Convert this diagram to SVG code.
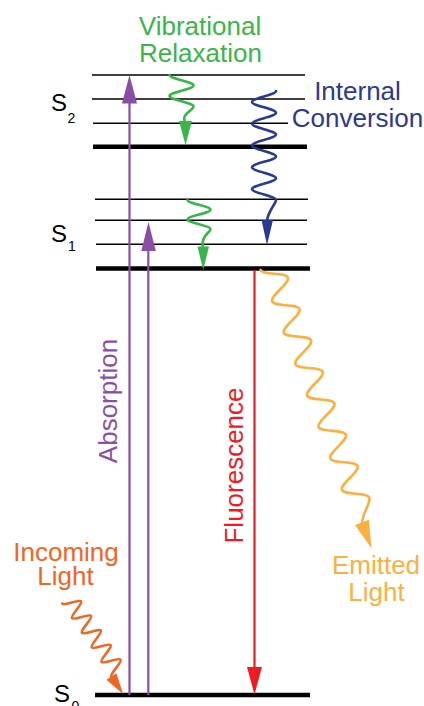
<svg xmlns="http://www.w3.org/2000/svg" width="424" height="706" viewBox="0 0 424 706">
<style>
.lv{stroke:#000;stroke-width:1.6;fill:none}
.lvt{stroke:#000;stroke-width:4.6;fill:none}
.lab{font-family:"Liberation Sans",Arial,Helvetica,sans-serif;font-size:26px}
.sl{font-family:"Liberation Sans",Arial,Helvetica,sans-serif;font-size:24px;fill:#000}
.sub{font-family:"Liberation Sans",Arial,Helvetica,sans-serif;font-size:14px;fill:#000}
.wv{fill:none;stroke-width:2.6;stroke-linecap:round;stroke-linejoin:round}
</style>
<rect width="424" height="706" fill="#fff"/>
<g id="levels">
<g id="S2">
<line class="lv" x1="92" y1="75" x2="305" y2="75"/>
<line class="lv" x1="92" y1="99" x2="305" y2="99"/>
<line class="lv" x1="93" y1="123.3" x2="288" y2="123.3"/>
<line class="lvt" x1="93" y1="146.7" x2="307" y2="146.7"/>
<text class="sl" x="51" y="110.5">S</text><text class="sub" x="67.5" y="122.5">2</text>
</g>
<g id="S1">
<line class="lv" x1="95" y1="199.3" x2="308" y2="199.3"/>
<line class="lv" x1="95" y1="220.3" x2="307" y2="220.3"/>
<line class="lv" x1="96" y1="244.3" x2="307" y2="244.3"/>
<line class="lvt" x1="96" y1="268.5" x2="310" y2="268.5"/>
<text class="sl" x="51" y="242">S</text><text class="sub" x="68" y="251">1</text>
</g>
<g id="S0">
<line class="lvt" x1="95" y1="695" x2="310" y2="695"/>
<text class="sl" x="54" y="702">S</text><text class="sub" x="71.5" y="711">0</text>
</g>
</g>
<g id="connectors">
<g id="absorption" fill="#8B4EA6" stroke="#8B4EA6">
<line x1="129.5" y1="695" x2="129.5" y2="100" stroke-width="2.2"/>
<polygon points="122,103.5 137,103.5 129.5,75" stroke="none"/>
<line x1="148.3" y1="695" x2="148.3" y2="248" stroke-width="2.2"/>
<polygon points="141.3,251 155.8,251 148.5,222" stroke="none"/>
</g>
<g id="fluorescence" fill="#ED1C24" stroke="#ED1C24">
<line x1="254.5" y1="270" x2="254.5" y2="670" stroke-width="2.2"/>
<polygon points="247,667 262,667 254.5,694.5" stroke="none"/>
</g>
<g id="vib1" stroke="#39B54A" fill="#39B54A">
<path class="wv" d="M169.5,75 C169.5,78.8 193.5,81.7 193.5,85.5 S169.5,92.2 169.5,96 S193.5,102.7 193.5,106.5 S180,114 185.5,123"/>
<polygon points="179,121 192,121 185.5,145" stroke="none"/>
</g>
<g id="vib2" stroke="#39B54A" fill="#39B54A">
<path class="wv" d="M187.5,200 C187.5,203.5 210.5,206.2 210.5,209.7 S187.5,215.9 187.5,219.4 S210.5,225.6 210.5,229.1 S200,236 203.2,248"/>
<polygon points="197.5,246.5 209,246.5 203.2,270" stroke="none"/>
</g>
<g id="ic" stroke="#2B3990" fill="#2B3990">
<path class="wv" d="M276,91 C276,94.96 252,97.94 252,101.9 S276,108.84 276,112.8 S252,119.74 252,123.7 S276,130.64 276,134.6 S252,141.54 252,145.5 S276,152.44 276,156.4 S252,163.34 252,167.3 S276,174.24 276,178.2 S252,185.14 252,189.1 S276,196.04 276,200 S267,212 267,222"/>
<polygon points="261.5,220 273,220 267,245" stroke="none"/>
</g>
<g id="emitted" stroke="#FBB040" fill="#FBB040" transform="translate(271.3,265.9) rotate(69.7)">
<path class="wv" d="M0,11.5 C6.09,11.5 10.66,-11.5 16.75,-11.5 S27.41,11.5 33.5,11.5 S44.16,-11.5 50.25,-11.5 S60.91,11.5 67,11.5 S77.66,-11.5 83.75,-11.5 S94.41,11.5 100.5,11.5 S111.16,-11.5 117.25,-11.5 S127.91,11.5 134,11.5 S144.66,-11.5 150.75,-11.5 S161.41,11.5 167.5,11.5 S178.16,-11.5 184.25,-11.5 S194.91,11.5 201,11.5 S211.66,-11.5 217.75,-11.5 S228.41,11.5 234.5,11.5 S245.16,-11.5 251.25,-11.5 S266,4 274,4"/>
<polygon points="272,-3.4 272,11.4 299.5,4" stroke="none"/>
</g>
<g id="incoming" stroke="#F26522" fill="#F26522" transform="translate(69.2,598.8) rotate(56)">
<path class="wv" d="M0,8.5 C3.2,8.5 5.6,-8.5 8.8,-8.5 S14.4,8.5 17.6,8.5 S23.2,-8.5 26.4,-8.5 S32,8.5 35.2,8.5 S40.8,-8.5 44,-8.5 S49.6,8.5 52.8,8.5 S58.4,-8.5 61.6,-8.5 S67.2,8.5 70.4,8.5 S76,-8.5 79.2,-8.5 S84.8,8.5 88,8.5 L90,8.5"/>
<polygon points="88,2.5 88,14.5 109,8.5" stroke="none"/>
</g>
</g>
<g id="labels">
<text class="lab" fill="#39B54A" text-anchor="middle" x="200" y="35">Vibrational</text>
<text class="lab" fill="#39B54A" text-anchor="middle" x="200.5" y="61.5">Relaxation</text>
<text class="lab" fill="#2B3990" text-anchor="middle" x="357.5" y="100">Internal</text>
<text class="lab" fill="#2B3990" text-anchor="middle" x="357.5" y="126.5">Conversion</text>
<text class="lab" fill="#F26522" text-anchor="middle" x="66" y="560.5">Incoming</text>
<text class="lab" fill="#F26522" text-anchor="middle" x="65.5" y="585">Light</text>
<text class="lab" fill="#FBB040" text-anchor="middle" x="376" y="574">Emitted</text>
<text class="lab" fill="#FBB040" text-anchor="middle" x="376.5" y="601">Light</text>
<text class="lab" fill="#8B4EA6" text-anchor="middle" transform="translate(116.5,401) rotate(-90)">Absorption</text>
<text class="lab" fill="#ED1C24" text-anchor="middle" transform="translate(243,465.5) rotate(-90)">Fluorescence</text>
</g>
</svg>
